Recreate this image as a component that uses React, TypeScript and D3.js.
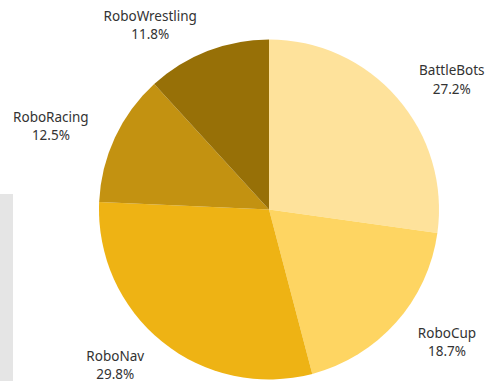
import React from "react";
import * as d3 from "d3";

const categories = ["BattleBots", "RoboCup", "RoboNav", "RoboRacing", "RoboWrestling"];
const shares = [27.2, 18.7, 29.8, 12.5, 11.8];
const colors = ["#FEE29B", "#FED562", "#EEB314", "#C39211", "#977007"];

const W = 497;
const H = 381;
const cx = 269;
const cy = 209.5;
const radius = 170;
const labelRadius = 199;
const fontSize = 13.5;
const fontFamily = "'Noto Sans', sans-serif";

function measure(s: string): number {
  const c = document.createElement("canvas").getContext("2d");
  if (!c) return s.length * 7;
  c.font = `${fontSize}px ${fontFamily}`;
  return c.measureText(s).width;
}

export default function App() {
  const data = categories.map((c, i) => ({ name: c, value: shares[i], color: colors[i] }));
  const pie = d3.pie<any>().value((d) => d.value).sort(null);
  const arcs = pie(data);
  const arcGen = d3.arc<any>().innerRadius(0).outerRadius(radius);

  return (
    <svg
      width={W}
      height={H}
      style={{ position: "fixed", left: 0, top: 0, background: "#fff" }}
      fontFamily={fontFamily}
    >
      <rect x={0} y={194} width={13} height={H - 194} fill="#e5e5e5" />
      <g transform={`translate(${cx},${cy})`}>
        {arcs.map((a, i) => (
          <path key={i} d={arcGen(a) as string} fill={a.data.color} />
        ))}
        {arcs.map((a, i) => {
          const mid = (a.startAngle + a.endAngle) / 2;
          const x = labelRadius * Math.sin(mid);
          const y = -labelRadius * Math.cos(mid);
          const pct = `${a.data.value.toFixed(1)}%`;
          const w = Math.max(measure(a.data.name), measure(pct));
          const tx = x >= 0 ? x + w / 2 : x - w / 2;
          return (
            <text key={i} x={tx} y={y} textAnchor="middle" fontSize={fontSize} fill="#333">
              <tspan x={tx} dy="-0.25em">{a.data.name}</tspan>
              <tspan x={tx} dy="1.35em">{pct}</tspan>
            </text>
          );
        })}
      </g>
    </svg>
  );
}
